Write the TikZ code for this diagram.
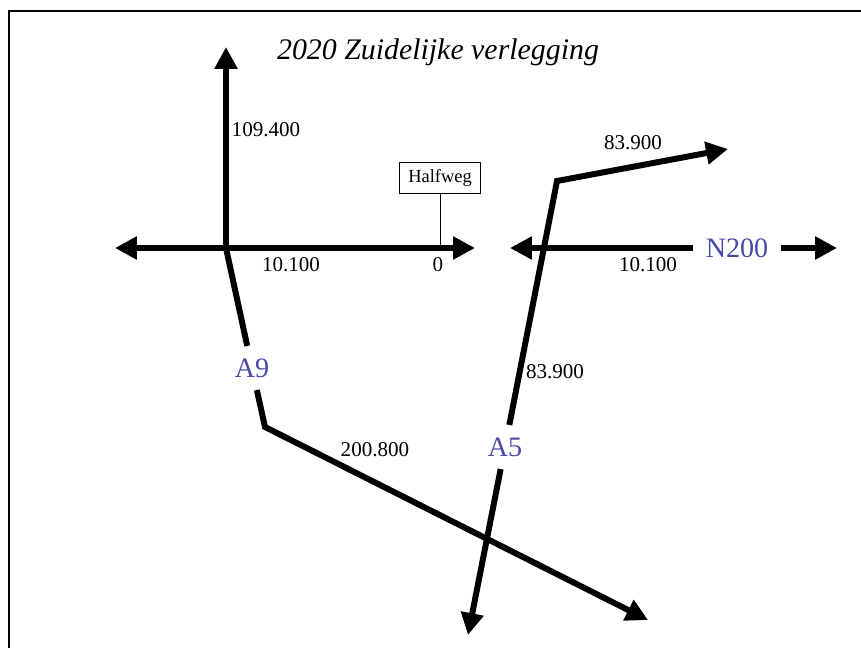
\documentclass[tikz,border=0pt]{standalone}
\usepackage{fontspec}
\setmainfont{Liberation Serif}
\usepackage{tikz}
\usetikzlibrary{arrows.meta}

\definecolor{roadblue}{RGB}{72,72,168}

\tikzset{
  roadline/.style={line width=3.4pt},
  road/.style={roadline, -{Triangle[length=12.5pt,width=12.5pt]}},
  roadtwo/.style={roadline, {Triangle[length=12.5pt,width=12.5pt]}-{Triangle[length=12.5pt,width=12.5pt]}},
  km/.style={font=\fontsize{12}{14}\selectfont},
  roadname/.style={font=\fontsize{16}{19}\selectfont, text=roadblue, inner sep=7pt},
}

\begin{document}
\begin{tikzpicture}[x=0.02cm,y=-0.02cm]
    \useasboundingbox (0,0) rectangle (861,648);
    \draw[line width=1.1pt] (9,648) -- (9,11) -- (861,11);
    \node[font=\itshape\fontsize{17}{20}\selectfont] (title) at (438,52) {2020 Zuidelijke verlegging};

    % A9
    \coordinate (A9top) at (226,47);
    \coordinate (A9x) at (226,248);
    \coordinate (A9bend) at (265,427);
    \coordinate (A9end) at (648,620);
    \node[roadname] (A9) at (252,368) {A9};
    \draw[road] (A9x) -- (A9top);
    \draw[roadline] (A9x) -- (A9);
    \draw[road] (A9) -- (A9bend) -- (A9end);

    % weg bij Halfweg
    \coordinate (Ww) at (115,248);
    \coordinate (We) at (475,248);
    \draw[roadtwo] (Ww) -- (We);
    \node[draw, line width=0.5pt, font=\fontsize{10.5}{12}\selectfont, inner xsep=5pt, minimum height=17.5pt] (hw) at (440,178) {Halfweg};
    \coordinate (hwroad) at (440,248);
    \draw[line width=0.5pt] (hw) -- (hwroad);

    % N200
    \coordinate (Nw) at (510,248);
    \coordinate (Ne) at (837,248);
    \node[roadname] (N200) at (737,248) {N200};
    \draw[road] (N200) -- (Nw);
    \draw[road] (N200) -- (Ne);

    % A5
    \coordinate (A5s) at (468,635);
    \coordinate (A5bend) at (557,181);
    \coordinate (A5ne) at (728,149);
    \node[roadname] (A5) at (505,447) {A5};
    \draw[road] (A5) -- (A5s);
    \draw[road] (A5) -- (A5bend) -- (A5ne);

    \node[km] (k109) at (266,130) {109.400};
    \node[km] (k10a) at (291,265) {10.100};
    \node[km] (k0) at (438,265) {0};
    \node[km] (k200) at (375,450) {200.800};
    \node[km] (k83a) at (555,372) {83.900};
    \node[km] (k83b) at (633,143) {83.900};
    \node[km] (k10b) at (648,265) {10.100};
\end{tikzpicture}
\end{document}
